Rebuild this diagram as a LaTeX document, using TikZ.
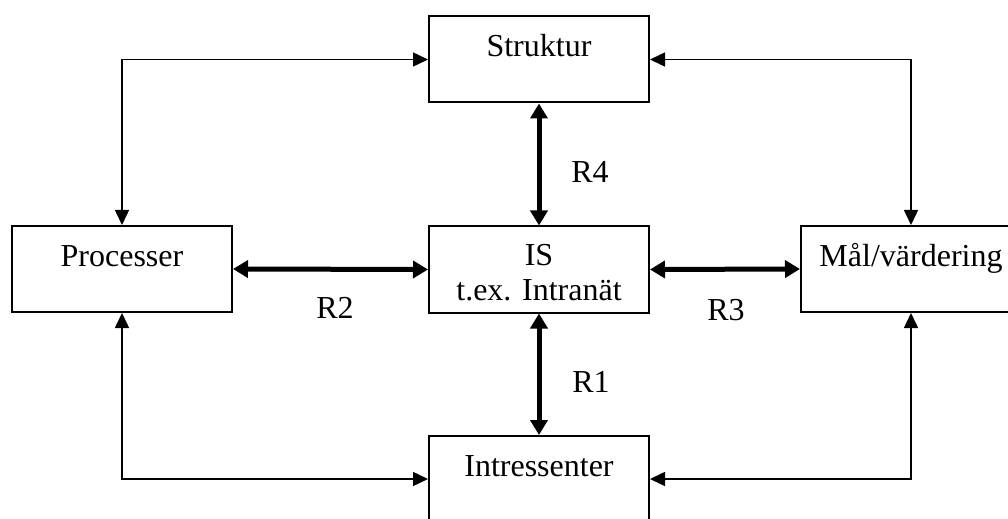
\documentclass[tikz,border=0pt]{standalone}
\usepackage{fontspec}
\setmainfont{Liberation Serif}
\usetikzlibrary{arrows.meta}
\tikzset{
  box/.style={draw, line width=1pt, minimum width=110pt, minimum height=43pt, inner sep=0pt},
  txt/.style={anchor=base, inner sep=0pt},
  link/.style={line width=0.75pt, {Triangle[length=7.5pt,width=7pt]}-{Triangle[length=7.5pt,width=7pt]}},
  rel/.style={line width=2.5pt, {Triangle[length=7.5pt,width=8.5pt]}-{Triangle[length=7.5pt,width=8.5pt]}}
}

\begin{document}
\begin{tikzpicture}[x=0.5pt, y=-0.5pt, font=\fontsize{16pt}{18pt}\selectfont]
  \useasboundingbox (0,0) rectangle (1008,519);
  \node[box] (strukt) at (539,59.5) {};
  \node[box] (is) at (539,269.5) {};
  \node[box] (proc) at (122,269) {};
  \node[box] (mal) at (911,269) {};
  \node[box] (intr) at (539,479) {};
  \node[txt] (struktt) at (539,57) {Struktur};
  \node[txt] (ist) at (539,265) {IS};
  \node[txt] (ist2) at (539,300) {t.ex. Intranät};
  \node[txt] (proct) at (122,266) {Processer};
  \node[txt] (malt) at (911,266) {Mål/värdering};
  \node[txt] (intrt) at (539,476) {Intressenter};
  \draw[link] (proc.north) |- (strukt.west);
  \draw[link] (strukt.east) -| (mal.north);
  \draw[link] (proc.south) |- (intr.west);
  \draw[link] (mal.south) |- (intr.east);
  \draw[rel] (strukt.south) -- (is.north);
  \draw[rel] (is.south) -- (intr.north);
  \draw[rel] (proc.east) -- (is.west);
  \draw[rel] (is.east) -- (mal.west);
  \node[txt] (r4) at (590,183) {R4};
  \node[txt] (r1) at (591,393) {R1};
  \node[txt] (r2) at (335,319) {R2};
  \node[txt] (r3) at (726,321) {R3};
\end{tikzpicture}
\end{document}
